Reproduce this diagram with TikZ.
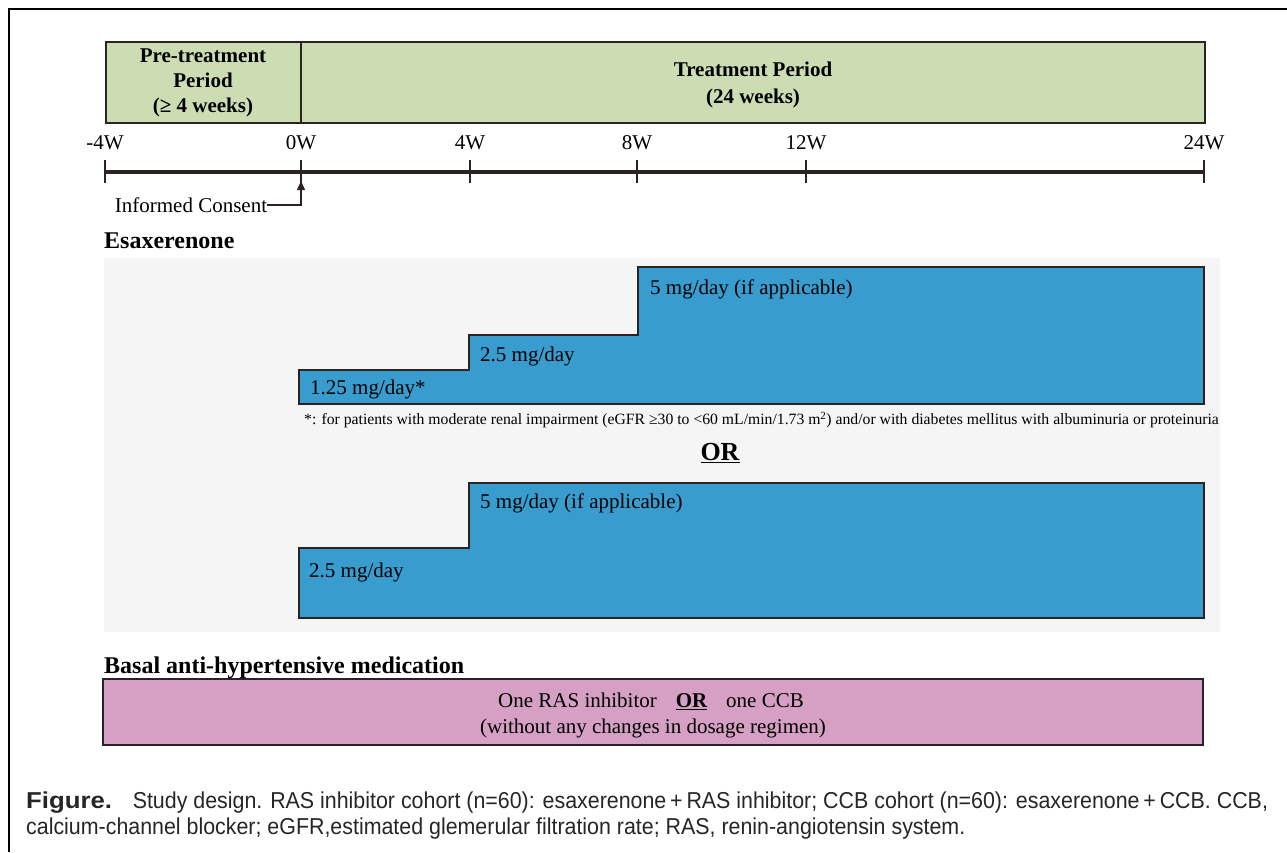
\documentclass[tikz,border=0pt]{standalone}
\usepackage{fontspec}
\setmainfont{Liberation Serif}
\newfontfamily\capfont[FakeStretch=0.93]{Liberation Sans}
\newfontfamily\capbold[FakeStretch=1.12]{Liberation Sans}
\usetikzlibrary{arrows.meta}
\definecolor{edgec}{HTML}{2B2222}
\definecolor{greenf}{HTML}{CCDDB4}
\definecolor{bluef}{HTML}{389CCF}
\definecolor{pinkf}{HTML}{D5A0C4}
\definecolor{panelf}{HTML}{F5F5F5}
\tikzset{
  periodbox/.style={draw=edgec, fill=greenf, line width=1.5pt},
  ptext/.style={font=\fontsize{21}{25}\selectfont\bfseries, align=center, inner sep=0pt},
  tlabel/.style={font=\fontsize{21}{26}\selectfont, inner sep=0pt},
  dose/.style={font=\fontsize{21}{25}\selectfont, anchor=west, inner sep=0pt},
  heading/.style={font=\fontsize{24}{28}\selectfont\bfseries, anchor=base west, inner sep=0pt},
  stepshape/.style={draw=edgec, fill=bluef, line width=1.8pt},
  tick/.style={draw=edgec, line width=1.6pt},
  axis/.style={draw=edgec, line width=3.5pt},
  captext/.style={font=\capfont\fontsize{23}{27}\selectfont, anchor=base west, inner sep=0pt, text=black!85}
}
\begin{document}
\begin{tikzpicture}[x=1pt,y=-1pt]
\useasboundingbox (0,0) rectangle (1287,852);
\fill[white] (0,0) rectangle (1287,852);
% frame
\draw[line width=2.2pt, black] (1287,9) -- (9,9) -- (9,852);

% period boxes
\draw[periodbox] (106,42) rectangle (1205,123);
\draw[periodbox] (301,42) -- (301,123);
\node[ptext] (pre) at (203,83) {Pre-treatment\\Period\\(≥ 4 weeks)};
\node[ptext, font=\fontsize{21}{27}\selectfont\bfseries] (trt) at (753,85) {Treatment Period\\(24 weeks)};

% timeline
\coordinate (tm4) at (105,172);
\coordinate (t0) at (301,172);
\coordinate (t4) at (470,172);
\coordinate (t8) at (637,172);
\coordinate (t12) at (806,172);
\coordinate (t24) at (1204,172);
\draw[axis] (tm4) -- (t24);
\foreach \c/\l in {tm4/-4W, t0/0W, t4/4W, t8/8W, t12/12W, t24/24W}{
  \draw[tick] ([yshift=12pt]\c) -- ([yshift=-11pt]\c);
  \node[tlabel] (l\c) at ([yshift=29pt]\c) {\l};
}
\node[tlabel] (ic) at (191,205) {Informed Consent};
\coordinate (consent) at (301,181);
\draw[draw=edgec, line width=1.3pt, -{Triangle[length=9pt,width=8pt]}] (ic.east) -| (consent);

% Esaxerenone
\node[heading] (esa) at (104,248) {Esaxerenone};
\fill[panelf] (104,258) rectangle (1220,632);

\draw[stepshape] (299,404) -- (299,370) -- (469,370) -- (469,335) -- (638,335) -- (638,267) -- (1204,267) -- (1204,404) -- cycle;
\node[dose] (d1) at (310,389) {1.25 mg/day*};
\node[dose] (d2) at (480,356) {2.5 mg/day};
\node[dose] (d3) at (650,289) {5 mg/day (if applicable)};

\node[anchor=west, inner sep=0pt, font=\fontsize{15.7}{18}\selectfont] (fn) at (304,420) {*: for patients with moderate renal impairment (eGFR ≥30 to <60 mL/min/1.73 m\textsuperscript{2}) and/or with diabetes mellitus with albuminuria or proteinuria};

\node[inner sep=0pt, font=\fontsize{26}{30}\selectfont\bfseries] (or) at (720,453) {\underline{OR}};

\draw[stepshape] (299,618) -- (299,548) -- (469,548) -- (469,483) -- (1204,483) -- (1204,618) -- cycle;
\node[dose] (e1) at (309,572) {2.5 mg/day};
\node[dose] (e2) at (480,503) {5 mg/day (if applicable)};

% Basal
\node[heading] (basal) at (104,673) {Basal anti-hypertensive medication};
\draw[draw=edgec, fill=pinkf, line width=1.8pt] (103,679) rectangle (1203,745);
\node[tlabel] (ras) at (651,701) {One RAS inhibitor\hspace{0.9em}\textbf{\underline{OR}}\hspace{0.9em}one CCB};
\node[tlabel] (dos) at (653,728) {(without any changes in dosage regimen)};

% caption
\node[captext] (cap1) at (26,808) {{\capbold\bfseries Figure.}\hspace{0.9em}Study design. RAS inhibitor cohort (n=60): esaxerenone\,+\,RAS inhibitor; CCB cohort (n=60): esaxerenone\,+\,CCB. CCB,};
\node[captext] (cap2) at (26,834) {calcium-channel blocker; eGFR,estimated glemerular filtration rate; RAS, renin-angiotensin system.};
\end{tikzpicture}
\end{document}
